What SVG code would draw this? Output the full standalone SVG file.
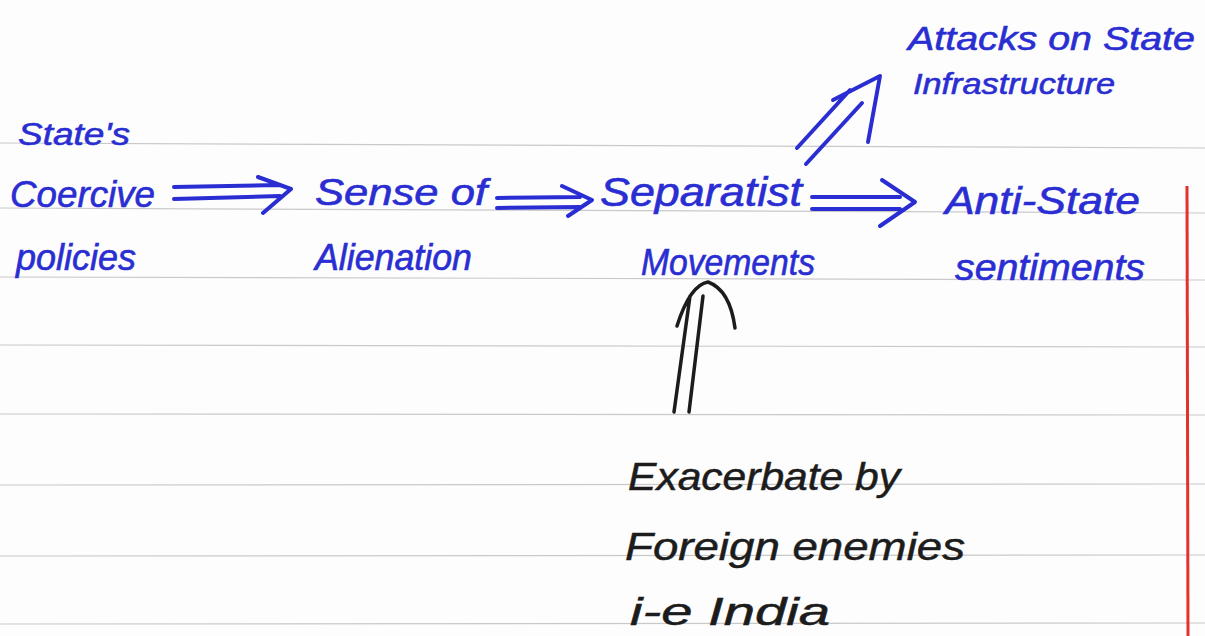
<svg xmlns="http://www.w3.org/2000/svg" width="1205" height="636" viewBox="0 0 1205 636">
<style>
.rule{stroke:#c9c9c9;stroke-width:1.2;fill:none}
.blue{fill:#2a2ed2;stroke:#2a2ed2;stroke-width:0.6;font-family:"Liberation Sans",Arial,sans-serif;font-style:italic}
.black{fill:#1c1c1c;stroke:#1c1c1c;stroke-width:0.5;font-family:"Liberation Sans",Arial,sans-serif;font-style:italic}
.ab{stroke:#2a2ed2;stroke-width:4;fill:none;stroke-linecap:round;stroke-linejoin:round}
.ak{stroke:#1c1c1c;stroke-width:3.5;fill:none;stroke-linecap:round;stroke-linejoin:round}
</style>
<rect width="1205" height="636" fill="#fdfdfd"/>
<g id="paper">
<path class="rule" d="M0 143 L1205 148"/>
<path class="rule" d="M0 208 L1205 213"/>
<path class="rule" d="M0 277 L1205 280"/>
<path class="rule" d="M0 345 L1205 347"/>
<path class="rule" d="M0 414 L1205 415"/>
<path class="rule" d="M0 485 L1205 484"/>
<path class="rule" d="M0 556 L1205 555"/>
<path class="rule" d="M0 624 L1205 623"/>
<line x1="1187" y1="186" x2="1188" y2="636" stroke="#e1322c" stroke-width="3"/>
</g>
<g id="n-coercive">
<text class="blue" x="18" y="145" font-size="32" textLength="112" lengthAdjust="spacingAndGlyphs">State's</text>
<text class="blue" x="10" y="207" font-size="36" textLength="145" lengthAdjust="spacingAndGlyphs">Coercive</text>
<text class="blue" x="16" y="270" font-size="36" textLength="120" lengthAdjust="spacingAndGlyphs">policies</text>
</g>
<g id="n-alienation">
<text class="blue" x="315" y="205" font-size="36" textLength="172" lengthAdjust="spacingAndGlyphs">Sense  of</text>
<text class="blue" x="315" y="270" font-size="36" textLength="157" lengthAdjust="spacingAndGlyphs">Alienation</text>
</g>
<g id="n-separatist">
<text class="blue" x="600" y="206" font-size="40" textLength="202" lengthAdjust="spacingAndGlyphs">Separatist</text>
<text class="blue" x="641" y="275" font-size="37" textLength="174" lengthAdjust="spacingAndGlyphs">Movements</text>
</g>
<g id="n-antistate">
<text class="blue" x="945" y="214" font-size="38" textLength="195" lengthAdjust="spacingAndGlyphs">Anti-State</text>
<text class="blue" x="955" y="280" font-size="36" textLength="190" lengthAdjust="spacingAndGlyphs">sentiments</text>
</g>
<g id="n-attacks">
<text class="blue" x="908" y="50" font-size="34" textLength="287" lengthAdjust="spacingAndGlyphs">Attacks  on  State</text>
<text class="blue" x="913" y="94" font-size="30" textLength="202" lengthAdjust="spacingAndGlyphs">Infrastructure</text>
</g>
<g id="n-foreign">
<text class="black" x="628" y="490" font-size="38" textLength="272" lengthAdjust="spacingAndGlyphs">Exacerbate  by</text>
<text class="black" x="625" y="560" font-size="38" textLength="340" lengthAdjust="spacingAndGlyphs">Foreign   enemies</text>
<text class="black" x="630" y="625" font-size="38" textLength="200" lengthAdjust="spacingAndGlyphs">i-e  India</text>
</g>
<g id="connectors">
<path class="ab" d="M174 187 L280 185 M174 199 L280 196 M258 177 L291 189 L263 213"/>
<path class="ab" d="M497 198 L580 197 M497 208 L580 207 M562 186 L592 200 L568 216"/>
<path class="ab" d="M812 197 L900 197 M812 209 L900 209 M882 180 L915 202 L880 226"/>
<path class="ab" d="M797 148 L850 90 M806 164 L862 103 M833 100 L880 76 L868 142"/>
<path class="ak" d="M674 412 L690 296 M689 412 L703 296 M677 326 Q690 285 708 282 Q730 290 735 328"/>
</g>
</svg>
